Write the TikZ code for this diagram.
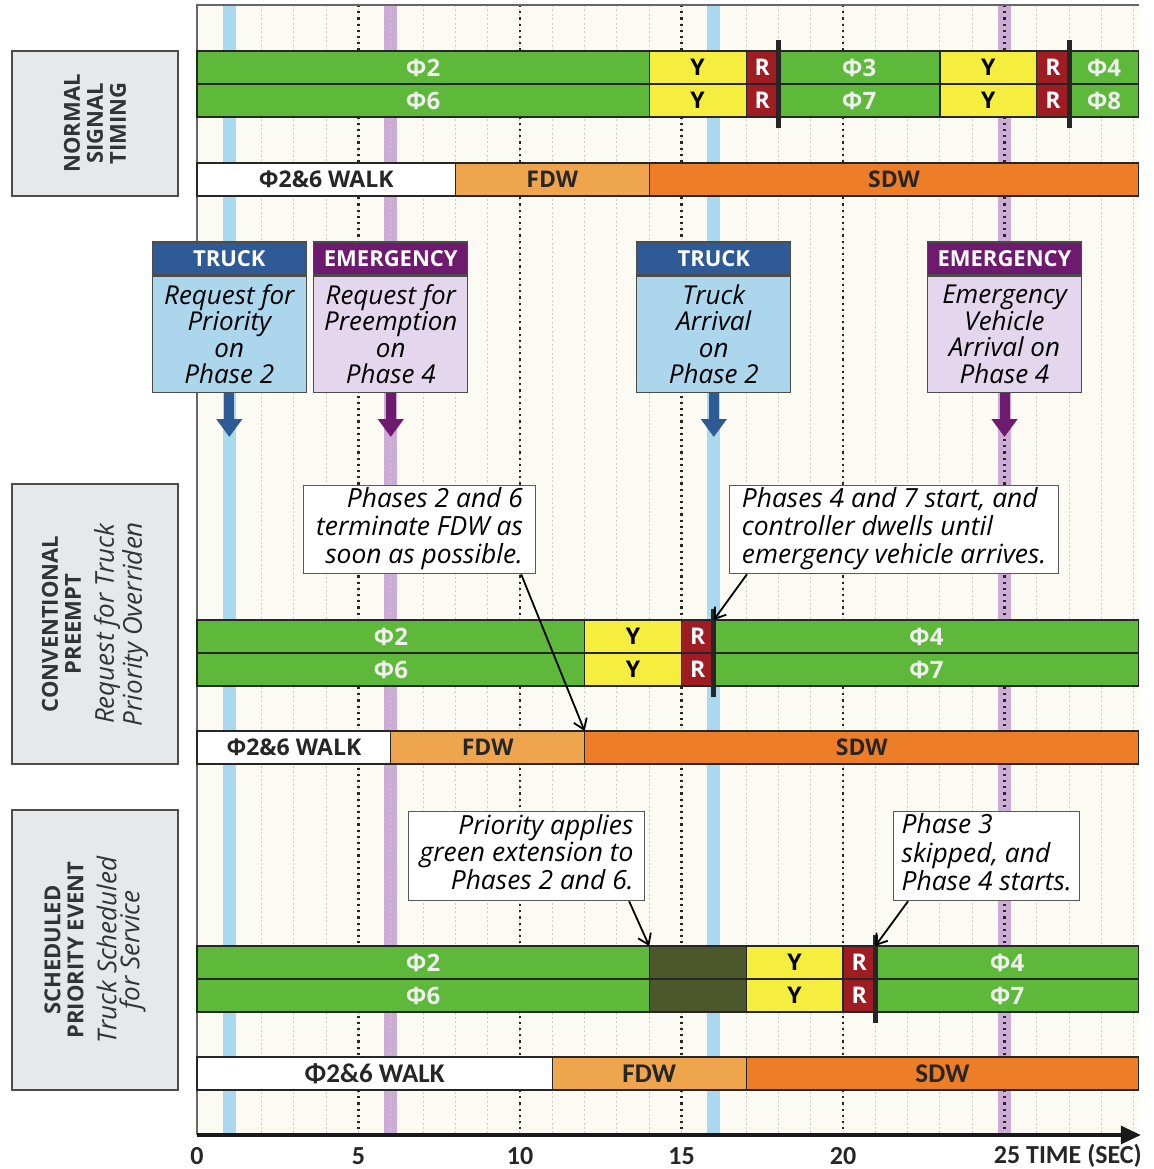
\documentclass[tikz,border=0pt]{standalone}
\usepackage{fontspec}
\setmainfont{Open Sans}
\newfontfamily\calfont{Carlito}
\usetikzlibrary{arrows.meta,positioning}

% colours
\definecolor{phgreen}{RGB}{94,184,58}
\definecolor{phyellow}{RGB}{246,238,62}
\definecolor{phred}{RGB}{158,28,34}
\definecolor{pholive}{RGB}{76,88,44}
\definecolor{fdwcol}{RGB}{239,165,78}
\definecolor{sdwcol}{RGB}{238,125,40}
\definecolor{truckdark}{RGB}{46,90,150}
\definecolor{trucklight}{RGB}{172,214,236}
\definecolor{emerdark}{RGB}{110,26,110}
\definecolor{emerlight}{RGB}{228,214,236}
\definecolor{truckband}{RGB}{170,216,238}
\definecolor{emerband}{RGB}{204,172,214}
\definecolor{chartbg}{RGB}{252,251,243}
\definecolor{labelgray}{RGB}{231,232,233}

\tikzset{
  seg/.style={draw=black!85,line width=0.6pt,anchor=north west,
    minimum height=16.5pt,inner sep=0pt,outer sep=0pt,
    font=\bfseries\fontsize{11.5}{12}\selectfont},
  gseg/.style={fill=phgreen,text=white!94!black,font=\bfseries\fontsize{12}{12}\selectfont},
  yseg/.style={fill=phyellow,text=black},
  rseg/.style={fill=phred,text=white},
  oseg/.style={fill=pholive},
  walkseg/.style={fill=white,text=black!85},
  fdwseg/.style={fill=fdwcol,text=black!85},
  sdwseg/.style={fill=sdwcol,text=black!85},
  narrow/.style={font=\calfont\bfseries\fontsize{13.5}{14}\selectfont},
  stopbar/.style={line width=2.5pt,black!85},
  minorgrid/.style={black!20,dash pattern=on 1pt off 1.2pt,line width=0.5pt},
  majorgrid/.style={black!85,dotted,line width=1.1pt},
  sidebox/.style={draw=black!70,fill=labelgray,line width=0.7pt,rotate=90,
    align=center,text=black!80,minimum height=83pt,inner sep=0pt},
  reqhead/.style={draw=black!70,line width=0.6pt,minimum width=77pt,minimum height=16.5pt,
    inner sep=0pt,text=white,font=\bfseries\fontsize{11}{11}\selectfont},
  reqbody/.style={draw=black!70,line width=0.6pt,minimum width=77pt,minimum height=58pt,
    inner sep=0pt,align=center,font=\itshape\fontsize{13}{13.25}\selectfont},
  reqarrow/.style={line width=5pt,-{Triangle[width=12.5pt,length=9pt]}},
  callout/.style={draw=black!65,fill=white,line width=0.6pt,anchor=north west,
    minimum height=44pt,inner sep=0pt,font=\itshape\fontsize{13.2}{13.5}\selectfont},
  callarrow/.style={line width=0.9pt,-{Straight Barb[length=5pt,width=7pt]}},
  timeaxis/.style={line width=1.6pt,black!90,-{Triangle[width=9pt,length=10pt]}},
  ticklab/.style={font=\calfont\bfseries\fontsize{13}{13}\selectfont,text=black!85,
    inner sep=0.5pt}
}

% one cell of a timing bar: name, start, end, top, style, text
\newcommand\seg[6]{%
  \pgfmathsetlengthmacro\segw{(#3-#2)*16.15pt}%
  \node[seg,#5,minimum width=\segw] (#1) at (#2,#4) {#6};}

\begin{document}
\begin{tikzpicture}[x=16.15pt,y=-0.5pt]
\useasboundingbox (-6.099,0) rectangle (29.598,1169);

% chart background
\fill[chartbg] (0,5) rectangle (29.16,1135);
% request bands
\foreach \t/\c in {1/truckband,16/truckband,6/emerband,25/emerband}
  \draw[line width=6.5pt,\c] (\t,5) -- (\t,1135);
% one second grid
\foreach \t in {1,...,29}
  \draw[minorgrid] (\t,5) -- (\t,1135);
% five second grid
\foreach \t in {5,10,...,25}
  \draw[majorgrid] (\t,5) -- (\t,1135);
% frame
\draw[black!60,line width=0.6pt] (0,1135) -- (0,5) -- (29.16,5);

% row labels
\node[sidebox,minimum width=72.5pt,font=\bfseries\fontsize{11}{11.5}\selectfont]
  (lblnormal) at (-3.158,123.5) {NORMAL\\SIGNAL\\TIMING};
\node[sidebox,minimum width=140pt,font=\fontsize{11}{11.5}\selectfont]
  (lblconv) at (-3.158,624) {\bfseries CONVENTIONAL\\\bfseries PREEMPT\\[5pt]
  \itshape\fontsize{13}{12.5}\selectfont Request for Truck\\\itshape\fontsize{13}{12.5}\selectfont Priority Overriden};
\node[sidebox,minimum width=140pt,font=\fontsize{11}{11.5}\selectfont]
  (lblsched) at (-3.158,950) {\bfseries SCHEDULED\\\bfseries PRIORITY EVENT\\[5pt]
  \itshape\fontsize{13}{12.5}\selectfont Truck Scheduled\\\itshape\fontsize{13}{12.5}\selectfont for Service};

% normal signal timing
\foreach \nm/\a/\b/\st/\lb in {np2/0/14/gseg/Φ2, ny1/14/17/yseg/Y, nr1/17/18/rseg/R,
    np3/18/23/gseg/Φ3, ny2/23/26/yseg/Y, nr2/26/27/rseg/R, np4/27/29.16/gseg/Φ4}
  \seg{\nm}{\a}{\b}{51}{\st}{\lb};
\foreach \nm/\a/\b/\st/\lb in {np6/0/14/gseg/Φ6, ny3/14/17/yseg/Y, nr3/17/18/rseg/R,
    np7/18/23/gseg/Φ7, ny4/23/26/yseg/Y, nr4/26/27/rseg/R, np8/27/29.16/gseg/Φ8}
  \seg{\nm}{\a}{\b}{84}{\st}{\lb};
\seg{nwalk}{0}{8}{163}{walkseg}{Φ2\&6 WALK}
\seg{nfdw}{8}{14}{163}{fdwseg}{FDW}
\seg{nsdw}{14}{29.16}{163}{sdwseg}{SDW}
\draw[stopbar] ([yshift=5.5pt]nr1.north east) -- ([yshift=-5.5pt]nr3.south east);
\draw[stopbar] ([yshift=5.5pt]nr2.north east) -- ([yshift=-5.5pt]nr4.south east);

% requests and arrivals
\node[reqhead,fill=truckdark] (t1h) at (1,258.5) {TRUCK};
\node[reqbody,fill=trucklight,below=0pt of t1h] (t1b) {Request for\\Priority\\on\\Phase 2};
\node[reqhead,fill=emerdark] (e1h) at (6,258.5) {EMERGENCY};
\node[reqbody,fill=emerlight,below=0pt of e1h] (e1b) {Request for\\Preemption\\on\\Phase 4};
\node[reqhead,fill=truckdark] (t2h) at (16,258.5) {TRUCK};
\node[reqbody,fill=trucklight,below=0pt of t2h] (t2b) {Truck\\Arrival\\on\\Phase 2};
\node[reqhead,fill=emerdark] (e2h) at (25,258.5) {EMERGENCY};
\node[reqbody,fill=emerlight,below=0pt of e2h] (e2b) {Emergency\\Vehicle\\Arrival on\\Phase 4};
\foreach \r/\t/\c in {t1/1/truckdark,e1/6/emerdark,t2/16/truckdark,e2/25/emerdark}{
  \coordinate (\r a) at (\t,437);
  \draw[reqarrow,\c] (\r b.south) -- (\r a);
}

% conventional preempt
\foreach \nm/\a/\b/\st/\lb in {cp2/0/12/gseg/Φ2, cy1/12/15/yseg/Y, cr1/15/16/rseg/R,
    cp4/16/29.16/gseg/Φ4}
  \seg{\nm}{\a}{\b}{620}{\st}{\lb};
\foreach \nm/\a/\b/\st/\lb in {cp6/0/12/gseg/Φ6, cy2/12/15/yseg/Y, cr2/15/16/rseg/R,
    cp7/16/29.16/gseg/Φ7}
  \seg{\nm}{\a}{\b}{653}{\st}{\lb};
\seg{cwalk}{0}{6}{731}{walkseg}{Φ2\&6 WALK}
\seg{cfdw}{6}{12}{731}{fdwseg}{FDW}
\seg{csdw}{12}{29.16}{731}{sdwseg}{SDW}
\draw[stopbar] ([yshift=5.5pt]cr1.north east) -- ([yshift=-5.5pt]cr2.south east);

\node[callout,minimum width=116pt] (c1) at (3.28,485)
  {\begin{tabular}{@{}r@{}}Phases 2 and 6\\terminate FDW as\\soon as possible.\end{tabular}};
\node[callout,minimum width=164.5pt] (c2) at (16.47,485)
  {\begin{tabular}{@{}l@{}}Phases 4 and 7 start, and\\controller dwells until\\emergency vehicle arrives.\end{tabular}};
\draw[callarrow] ([xshift=-7.5pt]c1.south east) -- (csdw.north west);
\draw[callarrow] ([xshift=9pt]c2.south west) -- (cp4.north west);

% scheduled priority event
\foreach \nm/\a/\b/\st/\lb in {sp2/0/14/gseg/Φ2, so1/14/17/oseg/{}, sy1/17/20/yseg/Y,
    sr1/20/21/rseg/R, sp4/21/29.16/gseg/Φ4}
  \seg{\nm}{\a}{\b}{946}{\st}{\lb};
\foreach \nm/\a/\b/\st/\lb in {sp6/0/14/gseg/Φ6, so2/14/17/oseg/{}, sy2/17/20/yseg/Y,
    sr2/20/21/rseg/R, sp7/21/29.16/gseg/Φ7}
  \seg{\nm}{\a}{\b}{979}{\st}{\lb};
\seg{swalk}{0}{11}{1057}{walkseg,narrow}{Φ2\&6 WALK}
\seg{sfdw}{11}{17}{1057}{fdwseg,narrow}{FDW}
\seg{ssdw}{17}{29.16}{1057}{sdwseg,narrow}{SDW}
\draw[stopbar] ([yshift=5.5pt]sr1.north east) -- ([yshift=-5.5pt]sr2.south east);

\node[callout,minimum width=118pt,minimum height=44.5pt] (c3) at (6.53,811)
  {\begin{tabular}{@{}r@{}}Priority applies\\green extension to\\Phases 2 and 6.\end{tabular}};
\node[callout,minimum width=93pt,minimum height=44.5pt] (c4) at (21.55,811)
  {\begin{tabular}{@{}l@{}}Phase 3\\skipped, and\\Phase 4 starts.\end{tabular}};
\draw[callarrow] ([xshift=-8pt]c3.south east) -- (so1.north west);
\draw[callarrow] ([xshift=7.5pt]c4.south west) -- (sp4.north west);

% time axis
\coordinate (ax0) at (0,1135);
\coordinate (ax1) at (29.22,1135);
\draw[timeaxis] (ax0) -- (ax1);
\foreach \t in {0,5,10,15,20}
  \node[ticklab] (tick\t) at (\t,1156) {\t};
\node[ticklab,anchor=west,inner xsep=0pt] (tick25) at (24.66,1156) {25 TIME (SEC)};
\end{tikzpicture}
\end{document}
